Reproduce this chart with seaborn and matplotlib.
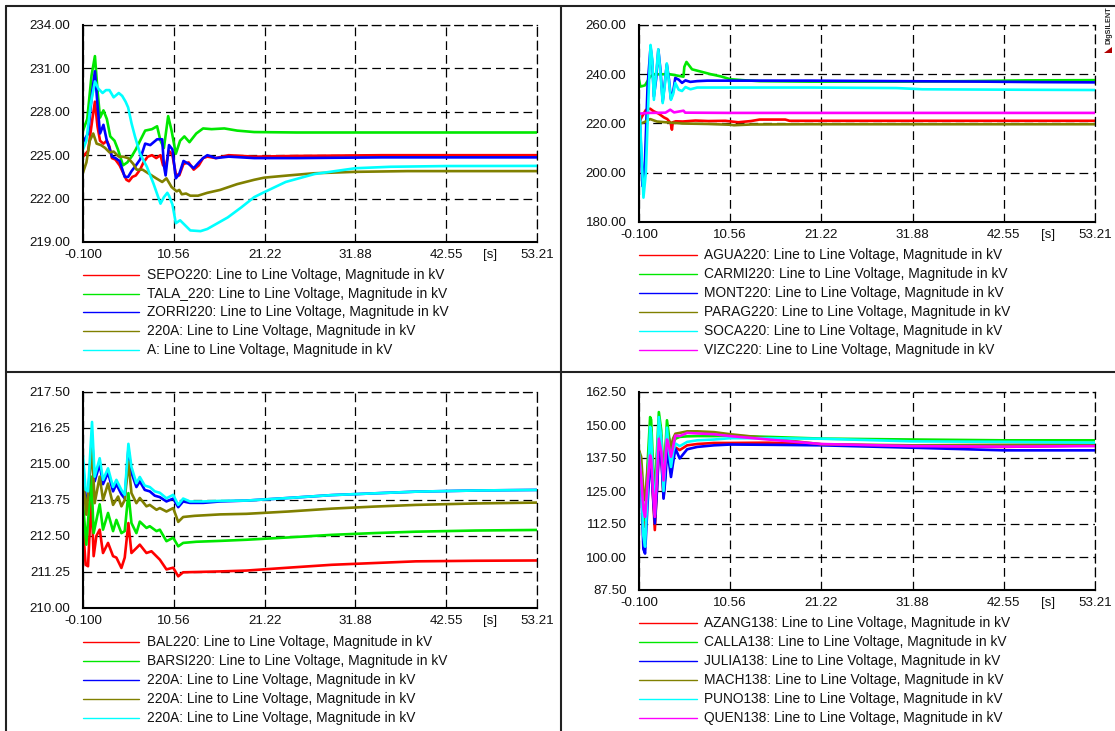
import numpy as np
import matplotlib
matplotlib.use("Agg")
import matplotlib.pyplot as plt
import seaborn as sns
from matplotlib.lines import Line2D
from matplotlib.patches import Polygon

# ---------------- data ----------------
x_ticks = [-0.1, 10.56, 21.22, 31.88, 42.55, 53.21]
x_ticklabels = ["-0.100", "10.56", "21.22", "31.88", "42.55", "53.21"]

# top-left panel
tl_yticks = [219.0, 222.0, 225.0, 228.0, 231.0, 234.0]
sepo_t = [-0.1, 0.5, 1.0, 1.3, 1.6, 1.9, 2.3, 2.7, 3.0, 3.3, 3.7, 4.2, 4.6, 5.0, 5.3, 5.7, 6.1, 6.6, 7.0, 7.5,
          8.0, 8.5, 9.0, 9.3, 9.6, 10.0, 10.4, 10.8, 11.2, 11.7, 12.3, 12.9, 13.5, 14.0, 14.5, 15.5, 17.0, 20.0,
          25.0, 35.0, 45.0, 53.21]
sepo_v = [224.9, 225.3, 227.5, 228.7, 227.0, 226.0, 225.8, 226.0, 225.6, 224.8, 224.7, 224.3, 223.8, 223.3, 223.2,
          223.5, 223.6, 224.0, 224.5, 224.9, 225.0, 224.8, 225.0, 224.3, 224.2, 225.3, 225.0, 223.7, 223.6, 224.4,
          224.5, 224.0, 224.3, 224.8, 224.9, 224.8, 225.0, 224.9, 224.95, 225.0, 225.0, 225.0]
tala_t = [-0.1, 0.4, 0.9, 1.3, 1.6, 1.9, 2.3, 2.7, 3.1, 3.6, 4.0, 4.6, 5.1, 5.6, 6.1, 6.6, 7.2, 8.0, 8.6, 9.0,
          9.4, 9.9, 10.3, 10.8, 11.3, 11.8, 12.4, 13.2, 14.0, 15.0, 16.5, 18.0, 20.0, 25.0, 35.0, 45.0, 53.21]
tala_v = [226.7, 227.5, 230.5, 231.85, 229.5, 227.6, 228.1, 227.5, 226.3, 226.0, 225.4, 224.3, 224.5, 224.9, 225.4,
          226.0, 226.7, 226.8, 227.0, 226.0, 225.5, 227.7, 226.7, 225.1, 226.0, 226.3, 225.9, 226.5, 226.85, 226.8,
          226.85, 226.7, 226.6, 226.57, 226.57, 226.57, 226.57]
zorri_t = [-0.1, 0.5, 1.0, 1.3, 1.6, 1.9, 2.3, 2.7, 3.0, 3.3, 3.7, 4.2, 4.8, 5.2, 5.6, 6.0, 6.6, 7.2, 7.8, 8.6,
           9.2, 9.4, 9.6, 10.0, 10.4, 10.8, 11.2, 11.7, 12.3, 12.9, 13.5, 14.0, 14.5, 15.5, 17.0, 20.0, 25.0,
           35.0, 45.0, 53.21]
zorri_v = [225.9, 226.5, 229.5, 230.8, 228.5, 226.5, 227.1, 226.0, 225.5, 224.9, 224.8, 224.6, 223.5, 223.5, 223.9,
           224.2, 224.7, 225.8, 225.7, 226.1, 226.1, 224.3, 223.6, 225.7, 225.4, 223.4, 223.7, 224.6, 224.4, 224.1,
           224.5, 224.8, 225.0, 224.8, 224.9, 224.8, 224.8, 224.85, 224.85, 224.85]
a220_t = [-0.1, 0.3, 0.7, 1.1, 1.5, 2.0, 2.5, 3.0, 3.5, 4.1, 4.6, 5.2, 5.8, 6.2, 6.9, 7.7, 8.5, 9.2, 9.7, 10.3,
          10.9, 11.2, 11.5, 12.0, 12.5, 13.4, 14.5, 16.0, 18.0, 20.0, 21.2, 24.0, 27.0, 31.9, 38.0, 45.0, 53.21]
a220_v = [223.8, 224.5, 226.0, 226.5, 225.8, 225.7, 225.5, 225.2, 225.25, 224.9, 224.9, 224.8, 224.4, 224.0, 224.0,
          223.7, 223.4, 223.15, 223.4, 222.8, 222.5, 222.6, 222.3, 222.35, 222.2, 222.2, 222.4, 222.6, 223.0, 223.3,
          223.45, 223.6, 223.75, 223.85, 223.9, 223.9, 223.9]
a_t = [-0.1, 0.3, 0.8, 1.3, 1.7, 2.2, 2.6, 3.0, 3.5, 4.1, 4.5, 4.9, 5.2, 5.6, 6.0, 6.6, 7.4, 8.2, 9.0, 9.4, 9.8,
       10.0, 10.4, 10.8, 11.3, 11.9, 12.5, 13.7, 14.5, 15.7, 16.9, 18.5, 20.0, 21.2, 23.7, 27.1, 31.9, 36.0, 42.5,
       53.21]
a_v = [225.4, 226.0, 228.5, 230.1, 229.6, 229.3, 229.5, 229.5, 229.0, 229.3, 229.1, 228.7, 228.3, 227.2, 226.3,
       225.1, 224.2, 223.0, 221.65, 222.1, 222.4, 222.2, 221.6, 220.3, 220.5, 220.15, 219.8, 219.75, 219.9, 220.3,
       220.7, 221.4, 222.1, 222.45, 223.15, 223.7, 224.1, 224.2, 224.25, 224.26]

# top-right panel
tr_yticks = [180.0, 200.0, 220.0, 240.0, 260.0]
agua_t = [-0.1, 0.2, 0.7, 1.2, 1.6, 2.2, 2.8, 3.2, 3.6, 3.75, 3.85, 4.2, 5.0, 6.5, 8.0, 10.0, 11.5, 13.0, 14.0,
          17.0, 17.5, 20.0, 53.21]
agua_v = [220.2, 222.5, 225.5, 226.0, 225.0, 224.0, 222.5, 221.8, 220.2, 217.5, 220.5, 220.9, 220.8, 221.2, 221.0,
          221.1, 220.5, 221.0, 221.6, 221.6, 221.1, 221.1, 221.1]
carmi_t = [-0.1, 0.06, 0.3, 0.6, 1.2, 1.7, 2.2, 3.5, 4.3, 5.1, 5.2, 5.45, 6.1, 7.1, 8.3, 9.5, 10.56, 12.0, 14.0,
           20.0, 30.0, 38.0, 45.0, 53.21]
carmi_v = [237.7, 235.0, 235.2, 235.5, 239.0, 240.0, 240.0, 240.0, 239.5, 239.0, 243.0, 245.0, 242.0, 241.1, 240.0,
           239.1, 238.0, 237.6, 237.2, 237.0, 237.0, 237.2, 237.5, 237.6]
mont_t = [-0.1, 0.0, 0.3, 0.6, 0.9, 1.25, 1.45, 1.64, 1.9, 2.16, 2.4, 2.67, 2.9, 3.15, 3.4, 3.63, 3.9, 4.14, 4.54,
          4.93, 5.33, 5.9, 6.7, 7.9, 9.1, 10.56, 20.0, 30.0, 40.0, 47.0, 53.21]
mont_v = [222.9, 222.0, 194.6, 205.0, 235.0, 251.0, 245.0, 231.0, 238.0, 250.0, 242.0, 229.0, 236.0, 244.0, 238.0,
          230.0, 233.0, 238.5, 237.8, 236.5, 237.5, 236.9, 237.2, 237.4, 237.4, 237.4, 237.4, 237.2, 237.0, 236.8,
          236.7]
parag_t = [-0.1, 0.5, 1.2, 2.0, 3.0, 5.0, 8.0, 10.56, 11.0, 13.0, 20.0, 53.21]
parag_v = [219.8, 220.5, 221.8, 220.8, 220.5, 220.0, 219.8, 219.5, 219.3, 219.6, 219.7, 219.7]
soca_t = [-0.1, 0.0, 0.42, 0.7, 1.0, 1.25, 1.45, 1.64, 1.9, 2.16, 2.4, 2.67, 2.9, 3.15, 3.4, 3.63, 3.9, 4.14, 4.54,
          4.93, 5.33, 5.92, 6.7, 7.9, 10.56, 20.0, 30.0, 33.0, 45.0, 53.21]
soca_v = [224.5, 223.0, 189.9, 200.0, 230.0, 251.9, 246.0, 229.6, 240.0, 250.1, 241.0, 228.3, 235.0, 244.4, 237.0,
          229.6, 232.0, 236.5, 233.7, 233.2, 234.8, 233.9, 234.6, 234.6, 234.6, 234.6, 234.4, 233.9, 233.7, 233.6]
vizc_t = [-0.1, 1.0, 3.0, 3.55, 4.0, 5.1, 5.3, 5.6, 10.56, 20.0, 53.21]
vizc_v = [224.0, 224.3, 224.4, 225.6, 224.5, 225.2, 224.4, 224.4, 224.3, 224.3, 224.3]

# bottom-left panel
bl_yticks = [210.0, 211.25, 212.5, 213.75, 215.0, 216.25, 217.5]
bal_t = [-0.1, 0.21, 0.49, 0.88, 1.15, 1.47, 1.86, 2.25, 2.84, 3.43, 3.82, 4.41, 4.80, 5.23, 5.59, 6.17, 6.57,
         7.35, 7.94, 8.92, 9.70, 10.49, 11.08, 11.66, 13.2, 16.0, 19.1, 24.0, 29.1, 34.0, 39.0, 46.0, 53.21]
bal_v = [212.83, 211.5, 211.45, 213.9, 211.8, 212.5, 212.72, 211.91, 212.26, 211.8, 211.75, 211.39, 211.75, 212.95,
         211.91, 212.08, 212.2, 211.91, 211.97, 211.68, 211.34, 211.4, 211.1, 211.24, 211.25, 211.27, 211.3, 211.4,
         211.5, 211.56, 211.62, 211.64, 211.65]
barsi_t = [-0.1, 0.29, 0.88, 1.15, 1.86, 2.25, 2.84, 3.43, 3.82, 4.41, 4.80, 5.23, 5.59, 6.17, 6.57, 7.35, 7.74,
           8.53, 8.92, 9.70, 10.49, 11.08, 11.66, 13.2, 16.0, 19.1, 24.0, 29.1, 34.0, 39.0, 46.0, 53.21]
barsi_v = [213.64, 212.2, 214.56, 212.6, 213.6, 212.72, 213.3, 212.67, 213.06, 212.6, 212.67, 213.99, 212.95, 212.6,
           213.0, 212.78, 212.84, 212.67, 212.72, 212.32, 212.44, 212.14, 212.26, 212.3, 212.33, 212.37, 212.45,
           212.54, 212.6, 212.65, 212.69, 212.71]
b220a2_t = [-0.1, 0.21, 0.49, 0.96, 1.27, 1.86, 2.25, 2.84, 3.43, 3.82, 4.41, 4.80, 5.23, 5.59, 6.17, 6.57, 7.15,
            7.74, 8.33, 8.92, 9.70, 10.49, 11.08, 11.66, 12.45, 14.02, 16.0, 19.1, 24.0, 29.1, 34.0, 39.0, 46.0,
            53.21]
b220a2_v = [215.0, 213.8, 213.9, 215.9, 214.4, 215.0, 214.3, 214.7, 214.05, 214.3, 213.95, 213.8, 215.5, 214.7,
            214.2, 214.4, 214.1, 214.05, 213.9, 213.85, 213.7, 213.8, 213.5, 213.7, 213.65, 213.65, 213.7, 213.73,
            213.82, 213.92, 213.98, 214.04, 214.08, 214.1]
b220a3_t = [-0.1, 0.29, 0.96, 1.27, 1.86, 2.25, 2.84, 3.43, 4.02, 4.41, 4.80, 5.23, 5.59, 6.17, 6.57, 7.35, 7.74,
            8.53, 8.92, 9.70, 10.49, 11.08, 11.66, 13.0, 16.0, 19.1, 24.0, 29.1, 34.0, 39.0, 46.0, 53.21]
b220a3_v = [214.56, 213.24, 215.54, 213.64, 214.56, 213.75, 214.32, 213.58, 213.87, 213.53, 213.75, 215.08, 213.99,
            213.64, 213.82, 213.53, 213.58, 213.41, 213.47, 213.35, 213.47, 212.99, 213.16, 213.2, 213.25, 213.27,
            213.35, 213.45, 213.52, 213.58, 213.63, 213.66]
b220a4_t = [-0.1, 0.21, 0.49, 0.96, 1.27, 1.86, 2.25, 2.84, 3.43, 3.82, 4.41, 4.80, 5.23, 5.59, 6.17, 6.57, 7.15,
            7.74, 8.33, 8.92, 9.70, 10.49, 11.08, 11.66, 12.45, 14.02, 16.0, 19.1, 24.0, 29.1, 34.0, 39.0, 46.0,
            53.21]
b220a4_v = [215.3, 214.1, 214.05, 216.46, 214.56, 215.2, 214.45, 214.85, 214.2, 214.45, 214.1, 213.93, 215.7, 214.9,
            214.33, 214.55, 214.25, 214.2, 214.05, 214.0, 213.81, 213.93, 213.58, 213.8, 213.7, 213.7, 213.72,
            213.73, 213.82, 213.92, 213.98, 214.04, 214.08, 214.1]

# bottom-right panel
br_yticks = [87.5, 100.0, 112.5, 125.0, 137.5, 150.0, 162.5]
br_t = [-0.1, 0.15, 0.41, 0.61, 0.9, 1.2, 1.32, 1.5, 1.75, 2.0, 2.22, 2.5, 2.77, 3.0, 3.17, 3.4, 3.64, 3.9, 4.15,
        4.66, 5.53, 6.71, 8.67, 10.56, 15.0, 21.22, 31.88, 42.55, 53.21]
azang_v = [138.5, 130, 115, 111.4, 125, 140, 139, 125, 110.2, 126, 142, 139, 122.5, 133, 141, 139, 133, 138, 141.5,
           140.5, 142.3, 142.8, 143.2, 143.2, 143.3, 142.7, 141.9, 141.7, 142.3]
calla_v = [140.0, 132, 116, 113.9, 135, 153.0, 152.0, 138, 120, 140, 154.9, 148, 128, 142, 151.8, 146, 140, 143,
           144.8, 145.5, 145.7, 145.8, 145.8, 145.9, 145.5, 144.85, 144.5, 144.2, 144.2]
julia_v = [137.0, 128, 103, 101.3, 120, 136.6, 135, 125, 112.7, 125, 140, 138, 122.1, 130, 140.4, 136, 130.3, 136,
           141.1, 137.3, 140.8, 141.7, 142.3, 142.6, 142.5, 142.3, 141.4, 140.4, 140.4]
mach_v = [140.4, 138, 125, 121.5, 133, 143, 143, 135, 124, 138, 147, 146, 132, 141, 146.5, 145, 142, 145, 146.7,
          147.0, 147.6, 147.6, 147.3, 146.5, 145.0, 142.7, 142.3, 142.5, 142.6]
puno_v = [139.5, 130, 108, 103.9, 125, 149.3, 147, 132, 116, 135, 153.0, 145, 125, 138, 149, 140, 134.1, 140, 143.0,
          142.0, 143.6, 144.2, 144.5, 145.0, 145.0, 144.8, 143.8, 143.6, 143.3]
quen_v = [138.0, 130, 118, 115.2, 128, 138.5, 137, 127, 115.2, 130, 144.8, 140, 129, 137, 144.5, 142, 138, 142,
          146.0, 145.8, 147.0, 146.8, 146.5, 145.8, 144.5, 142.8, 142.0, 141.8, 142.0]

SUFFIX = ": Line to Line Voltage, Magnitude in kV"
RED, GREEN, BLUE, OLIVE, CYAN, MAG = "#FF0000", "#00E800", "#0000FF", "#808000", "#00FFFF", "#FF00FF"

panels = [
    dict(rect=(83, 25, 537, 242), ylim=(219, 234), yticks=tl_yticks, leg=(83, 139, 147, [275, 294, 312, 331, 350]),
         series=[("SEPO220", sepo_t, sepo_v, RED), ("TALA_220", tala_t, tala_v, GREEN),
                 ("ZORRI220", zorri_t, zorri_v, BLUE), ("220A", a220_t, a220_v, OLIVE), ("A", a_t, a_v, CYAN)]),
    dict(rect=(639, 25, 1095, 222), ylim=(180, 260), yticks=tr_yticks,
         leg=(639, 697, 704, [255, 274, 293, 312, 331, 350]),
         series=[("AGUA220", agua_t, agua_v, RED), ("CARMI220", carmi_t, carmi_v, GREEN),
                 ("MONT220", mont_t, mont_v, BLUE), ("PARAG220", parag_t, parag_v, OLIVE),
                 ("SOCA220", soca_t, soca_v, CYAN), ("VIZC220", vizc_t, vizc_v, MAG)]),
    dict(rect=(83, 392, 537, 608), ylim=(210, 217.5), yticks=bl_yticks, leg=(83, 139, 147, [642, 661, 680, 699, 718]),
         series=[("BAL220", bal_t, bal_v, RED), ("BARSI220", barsi_t, barsi_v, GREEN),
                 ("220A", b220a2_t, b220a2_v, BLUE), ("220A", b220a3_t, b220a3_v, OLIVE),
                 ("220A", b220a4_t, b220a4_v, CYAN)]),
    dict(rect=(639, 392, 1095, 590), ylim=(87.5, 162.5), yticks=br_yticks,
         leg=(639, 697, 704, [623, 642, 661, 680, 699, 718]),
         series=[("AZANG138", br_t, azang_v, RED), ("CALLA138", br_t, calla_v, GREEN),
                 ("JULIA138", br_t, julia_v, BLUE), ("MACH138", br_t, mach_v, OLIVE),
                 ("PUNO138", br_t, puno_v, CYAN), ("QUEN138", br_t, quen_v, MAG)]),
]

# ---------------- drawing ----------------
sns.set_style("white")
plt.rcParams["font.family"] = ["Liberation Sans", "DejaVu Sans"]
W, H = 1115, 731
fig = plt.figure(figsize=(W / 100, H / 100), dpi=100)
FS = 9.6
LFS = 9.9
DASH = (0, (7, 4))

def fx(px):
    return px / W

def fy(py):
    return 1 - py / H

for p in panels:
    x0, y0, x1, y1 = p["rect"]
    ax = fig.add_axes([fx(x0), fy(y1), (x1 - x0) / W, (y1 - y0) / H])
    for name, t, v, c in p["series"]:
        sns.lineplot(x=t, y=v, ax=ax, color=c, lw=1.9, estimator=None, sort=False, legend=False)
    ax.set_xlim(x_ticks[0], x_ticks[-1])
    ax.set_ylim(*p["ylim"])
    ax.set_xticks(x_ticks)
    ax.set_xticklabels(x_ticklabels)
    yt = p["yticks"]
    ax.set_yticks(yt)
    ax.set_yticklabels([f"{v:.2f}" for v in yt])
    ax.set_xticks([(a + b) / 2 for a, b in zip(x_ticks[:-1], x_ticks[1:])], minor=True)
    ax.set_yticks([(a + b) / 2 for a, b in zip(yt[:-1], yt[1:])], minor=True)
    ax.tick_params(which="both", direction="in", length=4, width=1, color="black",
                   labelsize=FS, labelcolor="#111111")
    ax.tick_params(axis="y", pad=9)
    ax.tick_params(axis="x", pad=5)
    ax.grid(which="major", color="black", lw=0.9, ls=DASH)
    ax.set_xlabel("")
    ax.set_ylabel("")
    for s in ("left", "bottom"):
        ax.spines[s].set_color("black")
        ax.spines[s].set_linewidth(1.5)
    for s in ("top", "right"):
        ax.spines[s].set_color("black")
        ax.spines[s].set_linewidth(0.9)
        ax.spines[s].set_linestyle(DASH)
    ax.annotate("[s]", xy=(47.7, 0), xycoords=("data", "axes fraction"), xytext=(0, -5),
                textcoords="offset points", ha="center", va="top", fontsize=FS, color="#111111")
    ax.set_facecolor("white")
    # legend below the axes
    lx0, lx1, tx, rows = p["leg"]
    for (name, t, v, c), ry in zip(p["series"], rows):
        fig.add_artist(Line2D([fx(lx0), fx(lx1)], [fy(ry), fy(ry)], transform=fig.transFigure, color=c, lw=1.0))
        fig.text(fx(tx), fy(ry), name + SUFFIX, fontsize=LFS, va="center", ha="left", color="#111111")

# panel borders
for xs, ys in [((6, 6), (6, 731)), ((6, 1115), (6, 6)), ((561, 561), (6, 731)), ((6, 1115), (372, 372))]:
    fig.add_artist(Line2D([fx(xs[0]), fx(xs[1])], [fy(ys[0]), fy(ys[1])], transform=fig.transFigure,
                          color="#222222", lw=1.5))

# DIgSILENT mark
fig.text(fx(1109), fy(44), "DIgSILENT", rotation=90, fontsize=5.2, fontweight="bold", ha="center", va="bottom")
fig.add_artist(Polygon([[fx(1104), fy(53)], [fx(1112), fy(53)], [fx(1112), fy(47)]], closed=True,
                       transform=fig.transFigure, facecolor="#B00000", edgecolor="none"))

fig.savefig("out.png", dpi=100, facecolor="white")
